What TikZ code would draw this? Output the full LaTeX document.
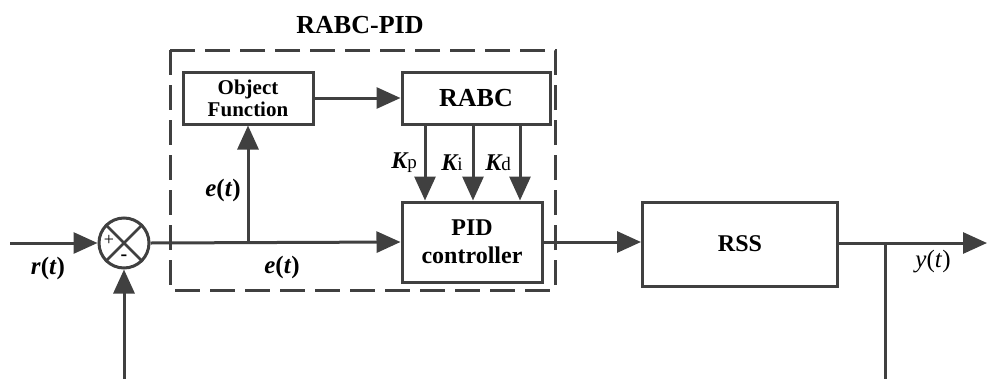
\documentclass[tikz,border=0pt]{standalone}
\usepackage{fontspec}
\setmainfont{LiberationSerif}[Extension=.ttf, UprightFont=*-Regular, BoldFont=*-Bold, ItalicFont=*-Italic, BoldItalicFont=*-BoldItalic]
\usetikzlibrary{arrows.meta}
\definecolor{lc}{HTML}{404040}
\begin{document}
\begin{tikzpicture}[x=1pt,y=-1pt,
  line/.style={draw=lc, line width=3pt},
  arr/.style={line, -{Triangle[length=24pt,width=21pt]}},
  blk/.style={draw=lc, line width=3pt, fill=white, align=center, inner sep=0pt,
    font=\bfseries\fontsize{24}{24}\selectfont},
  lbl/.style={font=\bfseries\itshape\fontsize{25}{25}\selectfont, inner sep=0pt},
  klbl/.style={inner sep=0pt},
  dashbox/.style={draw=lc, line width=3pt, dash pattern=on 25pt off 10pt}
]
\useasboundingbox (0,0) rectangle (987,378);

% dashed RABC-PID region
\draw[dashbox] (170,50) rectangle (555,290);
\node[font=\bfseries\fontsize{26}{26}\selectfont, inner sep=0pt] (title) at (360,25) {RABC-PID};

% blocks
\node[blk, minimum width=130pt, minimum height=52pt, font=\bfseries\fontsize{21}{22}\selectfont] (obj) at (248,98) {Object\\Function};
\node[blk, minimum width=148pt, minimum height=52pt, font=\bfseries\fontsize{26}{26}\selectfont] (rabc) at (476,98) {RABC};
\node[blk, minimum width=140pt, minimum height=80pt, font=\bfseries\fontsize{24}{28}\selectfont] (pid) at (472,242) {PID\\controller};
\node[blk, minimum width=195pt, minimum height=84pt] (rss) at (740,244) {RSS};

% summing junction
\node[circle, draw=lc, line width=3pt, minimum size=50pt, inner sep=0pt] (sum) at (124,243) {};
\draw[line, line width=2.5pt] (sum.45) -- (sum.225);
\draw[line, line width=2.5pt] (sum.135) -- (sum.315);
\node[font=\fontsize{18}{18}\selectfont, inner sep=0pt] (plus) at (109,240) {+};
\node[font=\bfseries\fontsize{20}{20}\selectfont, inner sep=0pt] (minus) at (124,258) {-};

% coordinates
\coordinate (in) at (10,243);
\coordinate (br) at (248,243);
\coordinate (out) at (987,243);
\coordinate (fb) at (885,243);
\coordinate (fbd) at (885,381);
\coordinate (fbl) at (124,381);
\coordinate (k1) at (425,0);
\coordinate (k2) at (473,0);
\coordinate (k3) at (520,0);

% connectors
\draw[arr] (in) -- (sum.west);
\draw[arr] (sum.east) -- (pid.west);
\draw[arr] (br) -- (obj.south);
\draw[arr] (obj.east) -- (rabc.west);
\draw[arr] (rabc.south -| k1) -- (pid.north -| k1);
\draw[arr] (rabc.south -| k2) -- (pid.north -| k2);
\draw[arr] (rabc.south -| k3) -- (pid.north -| k3);
\draw[arr] (pid.east) -- (rss.west |- pid.east);
\draw[arr] (rss.east |- out) -- (out);
\draw[line] (fb) -- (fbd) -- (fbl);
\draw[arr] (fbl) -- (sum.south);

% labels
\node[lbl] (rt) at (48,268) {r\textup{(}t\textup{)}};
\node[lbl] (et1) at (223,190) {e\textup{(}t\textup{)}};
\node[lbl] (et2) at (282,267) {e\textup{(}t\textup{)}};
\node[font=\itshape\fontsize{25}{25}\selectfont, inner sep=0pt] (yt) at (933,262) {y\textup{(}t\textup{)}};
\node[klbl] (kp) at (404,163) {{\bfseries\itshape\fontsize{24}{24}\selectfont K}{\fontsize{19}{19}\selectfont p}};
\node[klbl] (ki) at (452,163) {{\bfseries\itshape\fontsize{24}{24}\selectfont K}{\fontsize{19}{19}\selectfont i}};
\node[klbl] (kd) at (498,163) {{\bfseries\itshape\fontsize{24}{24}\selectfont K}{\fontsize{19}{19}\selectfont d}};
\end{tikzpicture}
\end{document}
